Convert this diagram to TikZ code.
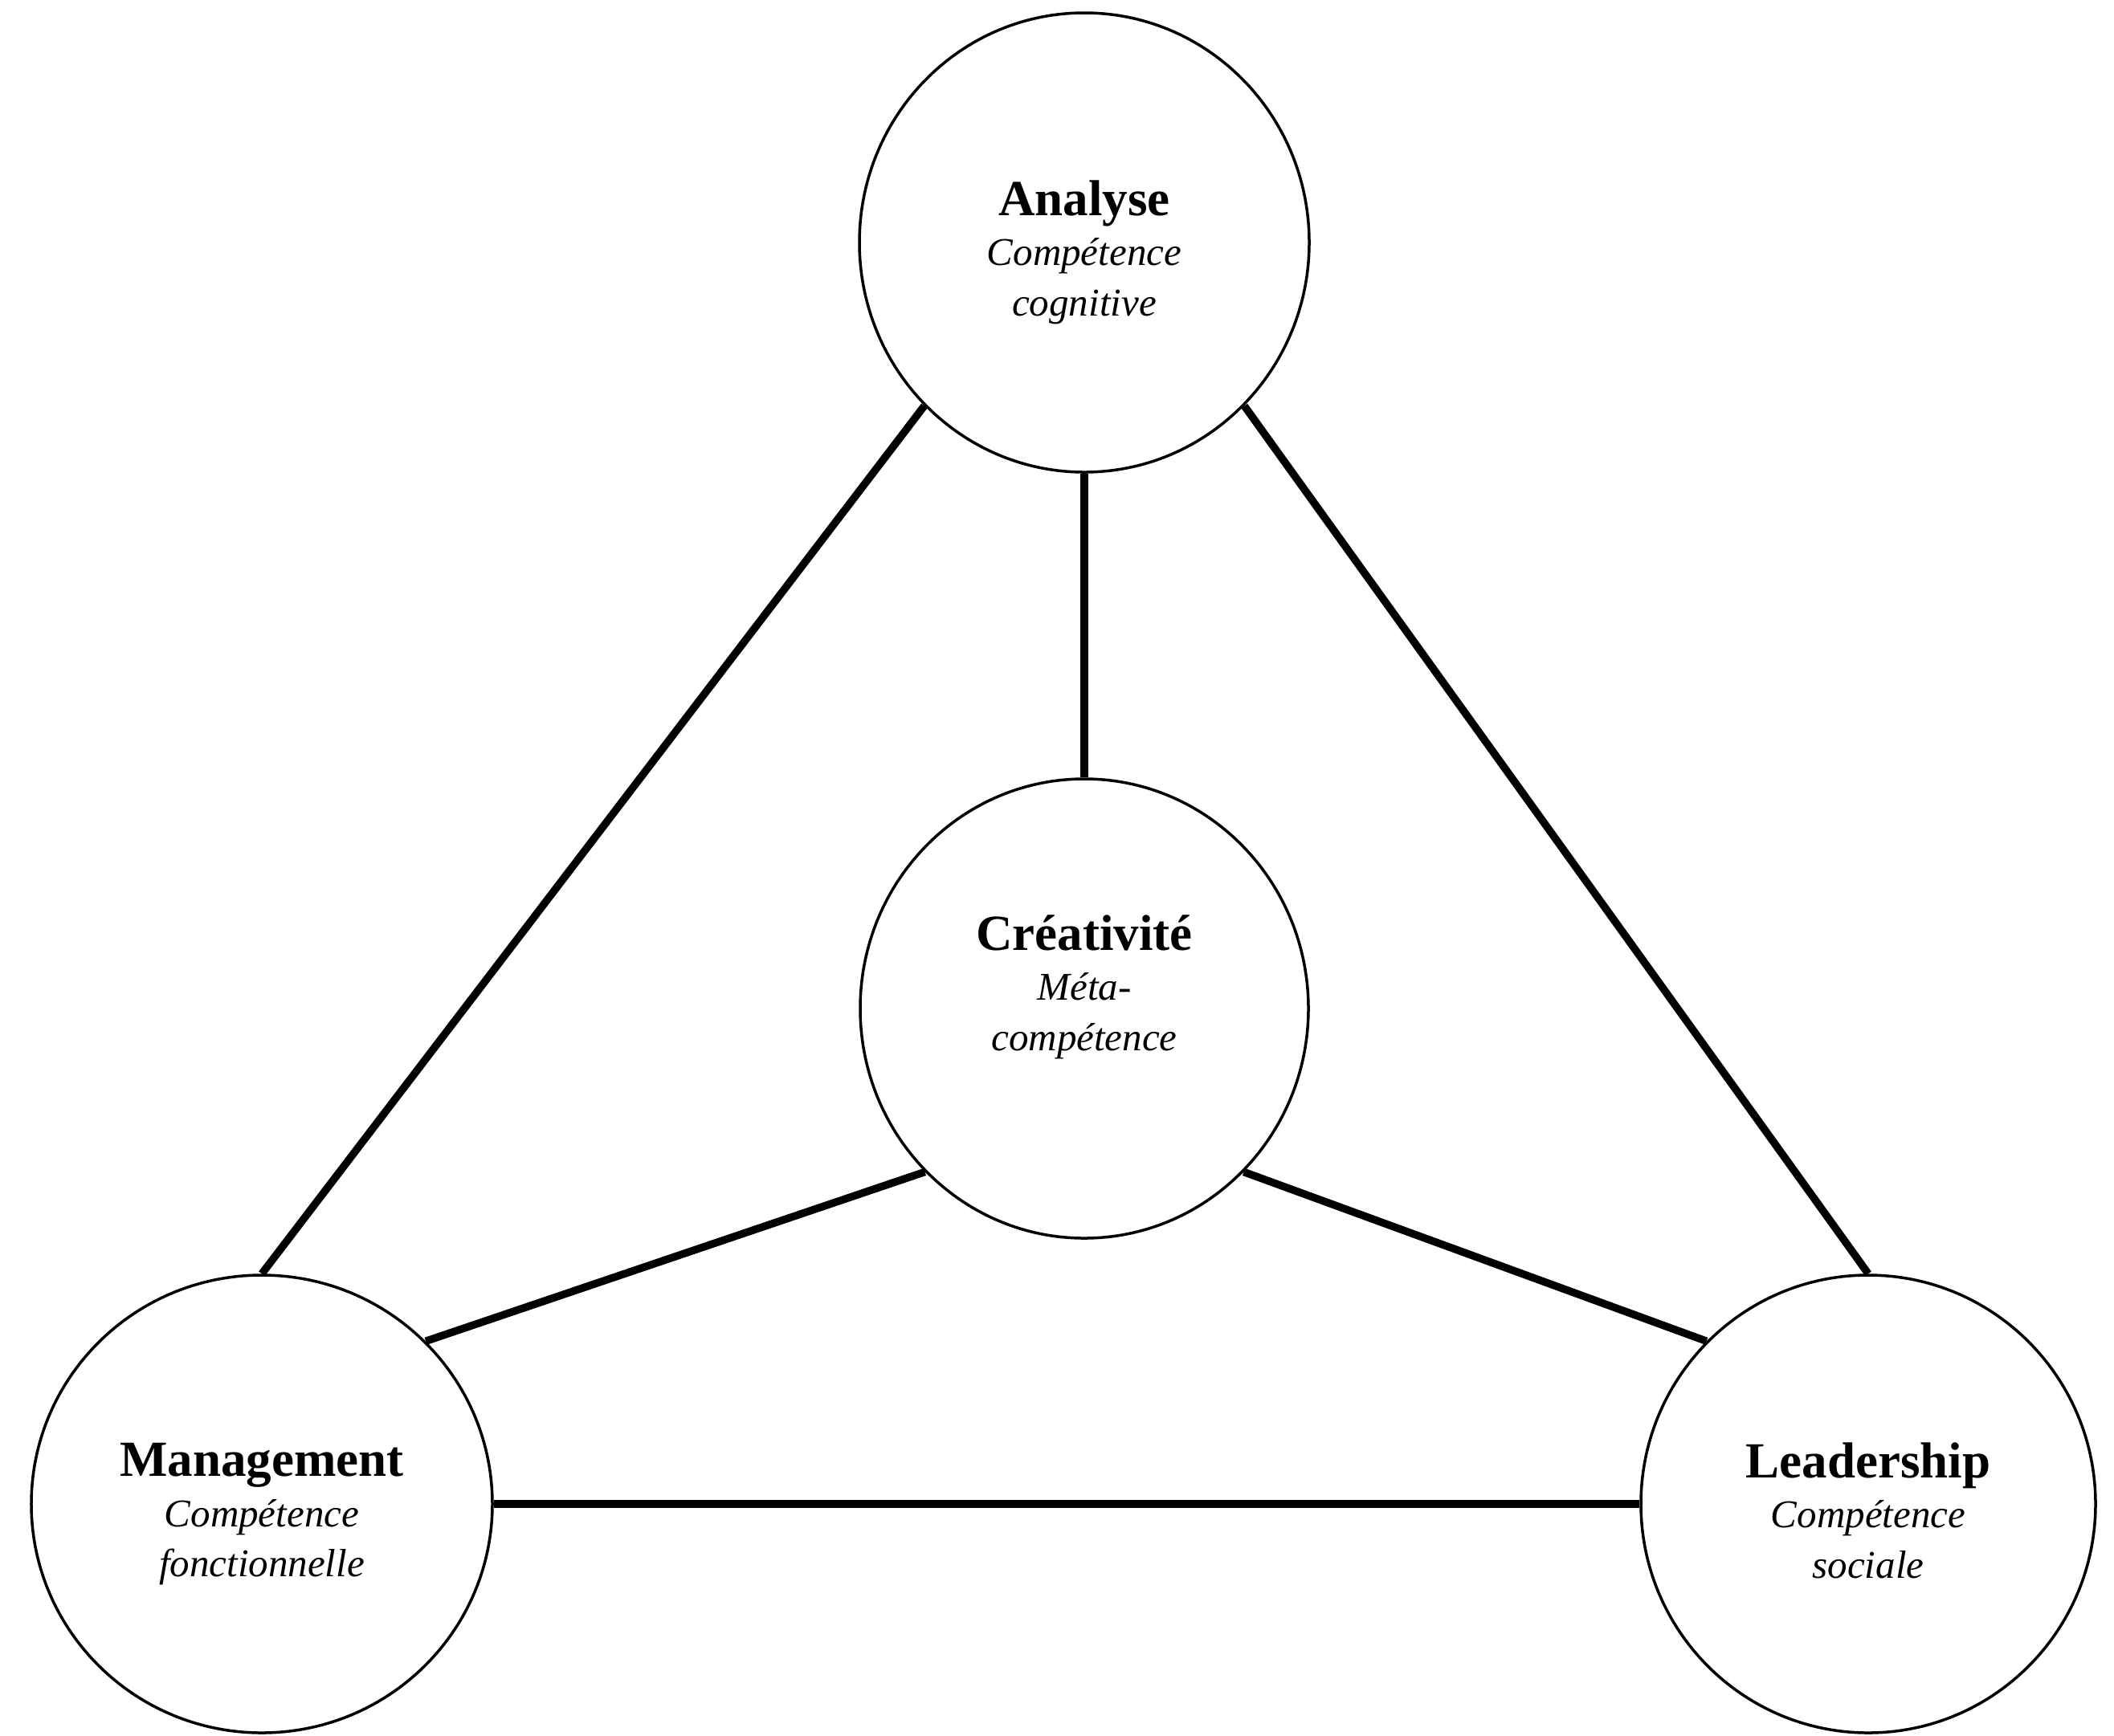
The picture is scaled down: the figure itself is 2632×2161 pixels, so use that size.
\documentclass[tikz,border=0pt]{standalone}
\usepackage{fontspec}
\setmainfont{Liberation Serif}
\usetikzlibrary{shapes.geometric}
\begin{document}
\begin{tikzpicture}[x=0.4pt,y=-0.4pt,
  comp/.style={ellipse,draw=black,line width=1.4pt,fill=white,inner sep=0pt},
  lbl/.style={align=center,inner sep=0pt,font=\fontsize{19.6}{25}\selectfont\itshape},
  conn/.style={line width=3.8pt,draw=black}]
\useasboundingbox (0,0) rectangle (2632,2161);
\newcommand\ttlfont{\fontsize{25.2}{25}\selectfont\bfseries\upshape}
% circles
\node[comp,minimum width=224pt,minimum height=228.8pt] (A) at (1350,302) {};
\node[comp,minimum width=223.2pt,minimum height=228.8pt] (C) at (1350,1256) {};
\node[comp,minimum width=229.6pt,minimum height=228pt] (M) at (326,1873) {};
\node[comp,minimum width=226.4pt,minimum height=228pt] (L) at (2326,1873) {};
% texts
\node[lbl] (tA) at (1350,314) {{\ttlfont Analyse}\\Compétence\\cognitive};
\node[lbl] (tC) at (1350,1229) {{\ttlfont Créativité}\\Méta-\\compétence};
\node[lbl] (tM) at (326,1886) {{\ttlfont Management}\\Compétence\\fonctionnelle};
\node[lbl] (tL) at (2326,1881) {{\ttlfont Leadership}\\Compétence\\sociale};
% connectors
\draw[conn] (A.south west) -- (M.north);
\draw[conn] (A.south east) -- (L.north);
\draw[conn] (A.south) -- (C.north);
\draw[conn] (C.south west) -- (M.north east);
\draw[conn] (C.south east) -- (L.north west);
\draw[conn] (M.east) -- (L.west);
\end{tikzpicture}
\end{document}
